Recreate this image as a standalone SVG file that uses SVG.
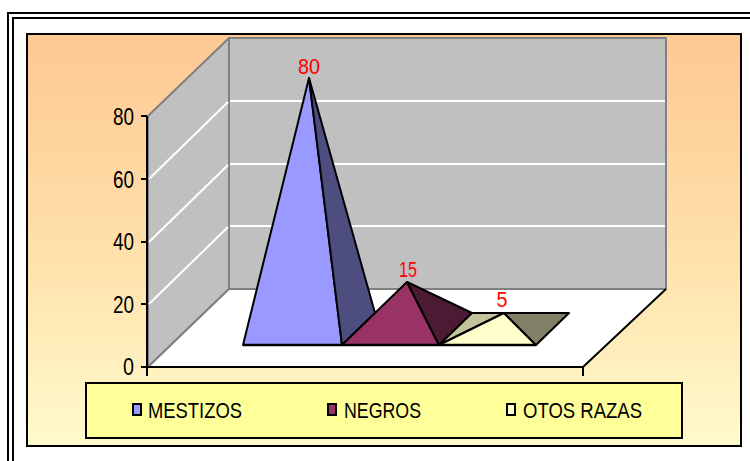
<svg xmlns="http://www.w3.org/2000/svg" width="750" height="461" viewBox="0 0 750 461">
<defs>
<linearGradient id="bg" x1="0" y1="0" x2="0" y2="1">
<stop offset="0" stop-color="#FDC894"/>
<stop offset="0.5" stop-color="#FFDFA8"/>
<stop offset="1" stop-color="#FFFBCC"/>
</linearGradient>
</defs>
<style>
.frame{fill:none;stroke:#000;stroke-width:2}
.wall{fill:#C0C0C0;stroke:#808080;stroke-width:2;stroke-linejoin:round}
.grid{stroke:#FFF;stroke-width:2}
.ax{stroke:#000;stroke-width:2;fill:none}
.face{stroke:#000;stroke-width:2;stroke-linejoin:round}
.lbl{font-family:"Liberation Sans",Arial,sans-serif;font-size:23px;fill:#000}
.val{font-family:"Liberation Sans",Arial,sans-serif;font-size:22px;fill:#FF0000;text-anchor:middle}
.leg{font-family:"Liberation Sans",Arial,sans-serif;font-size:22px;fill:#000}
.mk{stroke:#000;stroke-width:2}
</style>
<rect x="0" y="0" width="750" height="461" fill="#FFF"/>
<g id="page-frame">
<rect class="frame" x="8" y="13" width="760" height="470"/>
<rect class="frame" x="13" y="18" width="760" height="470"/>
</g>
<g id="chart-area">
<rect x="27" y="34" width="714" height="412" fill="url(#bg)" stroke="#000" stroke-width="2"/>
</g>
<g id="plot-walls">
<polygon class="wall" points="148,116 229,38 229,289 148,367"/>
<rect class="wall" x="229" y="38" width="437" height="251"/>
<line class="grid" x1="230" y1="226" x2="665" y2="226"/>
<line class="grid" x1="230" y1="164" x2="665" y2="164"/>
<line class="grid" x1="230" y1="101" x2="665" y2="101"/>
<line class="grid" x1="149" y1="304" x2="228" y2="227"/>
<line class="grid" x1="149" y1="242" x2="228" y2="165"/>
<line class="grid" x1="149" y1="179" x2="228" y2="102"/>
<polygon points="148,367 229,289 666,289 583,367" fill="#FFF"/>
<line x1="148" y1="367" x2="229" y2="289" stroke="#808080" stroke-width="2"/>
<line x1="229" y1="289" x2="666" y2="289" stroke="#808080" stroke-width="2"/>
<line x1="583" y1="367" x2="666" y2="289" stroke="#000" stroke-width="2"/>
</g>
<g id="axes">
<line class="ax" x1="147" y1="116" x2="147" y2="368"/>
<line class="ax" x1="146" y1="367" x2="584" y2="367"/>
<line class="ax" x1="141" y1="367" x2="147" y2="367"/>
<line class="ax" x1="141" y1="304" x2="147" y2="304"/>
<line class="ax" x1="141" y1="242" x2="147" y2="242"/>
<line class="ax" x1="141" y1="179" x2="147" y2="179"/>
<line class="ax" x1="141" y1="116" x2="147" y2="116"/>
<line class="ax" x1="147" y1="367" x2="147" y2="376"/>
<line class="ax" x1="583" y1="367" x2="583" y2="376"/>
<text class="lbl" x="134" y="375" text-anchor="end" textLength="11" lengthAdjust="spacingAndGlyphs">0</text>
<text class="lbl" x="134" y="313" text-anchor="end" textLength="21" lengthAdjust="spacingAndGlyphs">20</text>
<text class="lbl" x="134" y="250" text-anchor="end" textLength="21" lengthAdjust="spacingAndGlyphs">40</text>
<text class="lbl" x="134" y="188" text-anchor="end" textLength="21" lengthAdjust="spacingAndGlyphs">60</text>
<text class="lbl" x="134" y="125" text-anchor="end" textLength="21" lengthAdjust="spacingAndGlyphs">80</text>
</g>
<g id="mestizos">
<polygon class="face" fill="#9999FF" points="243,345 342,345 309,78"/>
<polygon class="face" fill="#4D4D80" points="342,345 375,313 309,78"/>
<text class="val" x="309" y="74" textLength="22" lengthAdjust="spacingAndGlyphs">80</text>
</g>
<g id="negros">
<polygon class="face" fill="#993366" points="342,345 439,345 407,282"/>
<polygon class="face" fill="#4D1A33" points="439,345 472,313 407,282"/>
<text class="val" x="408" y="277" textLength="18" lengthAdjust="spacingAndGlyphs">15</text>
</g>
<g id="otos-razas">
<polygon class="face" fill="#C4C49C" points="439,345 472,313 504,313"/>
<polygon class="face" fill="#FFFFCC" points="439,345 536,345 504,313"/>
<polygon class="face" fill="#808066" points="536,345 569,313 504,313"/>
<text class="val" x="502" y="307" textLength="11" lengthAdjust="spacingAndGlyphs">5</text>
</g>
<g id="base-line">
<line x1="243" y1="345" x2="536" y2="345" stroke="#000" stroke-width="2.5"/>
</g>
<g id="legend">
<rect x="86" y="383" width="596" height="55" fill="#FFFF99" stroke="#000" stroke-width="2"/>
<rect class="mk" x="133" y="404" width="8" height="11" fill="#9999FF"/>
<text class="leg" x="148" y="418" textLength="94" lengthAdjust="spacingAndGlyphs">MESTIZOS</text>
<rect class="mk" x="328" y="404" width="8" height="11" fill="#993366"/>
<text class="leg" x="344" y="418" textLength="77" lengthAdjust="spacingAndGlyphs">NEGROS</text>
<rect class="mk" x="507" y="404" width="8" height="11" fill="#FFFFCC"/>
<text class="leg" x="523" y="418" textLength="119" lengthAdjust="spacingAndGlyphs">OTOS RAZAS</text>
</g>
</svg>
